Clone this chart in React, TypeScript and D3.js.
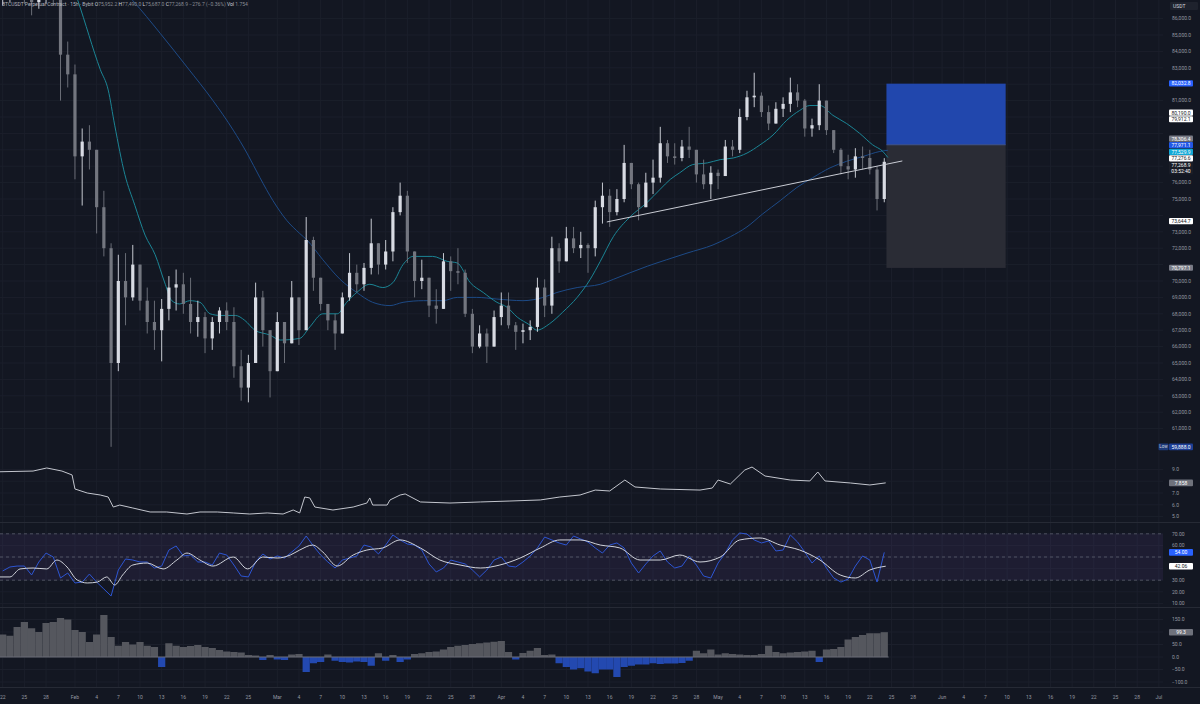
import React, { useEffect } from 'react';
import * as d3 from 'd3';

// ---------- DATA (prices in thousands USDT, day 0 = Jan 22) ----------
const firstOpen = 87.5;
const closes = [
  87.8, 88.0, 88.4, 87.6, 87.0, 87.5, 87.9, 87.3, 83.8, 82.6,
  77.6, 78.5, 78.0, 74.5, 72.0, 65.0, 70.0, 69.0, 71.0, 68.8,
  67.5, 67.0, 68.3, 69.6, 69.8, 68.6, 67.5, 67.8, 66.5, 67.5,
  68.2, 67.5, 64.8, 63.5, 65.0, 69.0, 67.0, 64.5, 67.5, 66.2,
  69.0, 67.0, 72.5, 70.2, 68.6, 67.6, 66.8, 69.0, 70.5, 69.8,
  70.8, 72.3, 71.0, 71.8, 74.2, 75.2, 71.8, 70.0, 70.2, 68.5,
  68.3, 71.2, 70.6, 70.5, 68.0, 66.0, 66.8, 66.0, 67.8, 68.5,
  67.3, 66.9, 67.0, 67.2, 69.6, 68.5, 72.0, 71.2, 72.6, 72.0,
  72.2, 72.0, 74.5, 75.2, 74.2, 75.0, 77.2, 75.9, 74.5, 76.0,
  76.3, 78.4, 77.6, 77.5, 78.2, 78.0, 76.5, 75.9, 76.6, 76.4,
  78.2, 78.0, 80.0, 81.2, 81.3, 80.3, 79.6, 80.5, 80.8, 81.5,
  81.0, 79.3, 79.5, 81.0, 79.2, 78.0, 77.0, 76.8, 77.6, 77.5,
  76.8, 75.0, 77.2689,
];
const highs = [
  88.5, 88.6, 89.0, 88.8, 88.2, 88.0, 88.4, 88.6, 87.8, 84.6,
  83.2, 79.3, 79.5, 78.0, 75.5, 72.3, 71.6, 71.7, 72.2, 70.8,
  69.6, 68.8, 68.9, 70.3, 70.7, 70.5, 70.2, 68.8, 68.1, 67.8,
  68.4, 68.7, 68.4, 65.8, 65.5, 69.9, 69.4, 67.0, 68.1, 67.2,
  70.0, 69.0, 73.9, 72.7, 70.2, 68.4, 68.0, 69.3, 71.7, 71.0,
  71.1, 73.8, 71.9, 72.5, 74.5, 76.0, 75.5, 71.5, 71.3, 70.1,
  69.5, 71.7, 71.5, 72.0, 70.7, 68.3, 67.3, 67.1, 68.2, 69.3,
  69.3, 67.5, 67.4, 67.6, 70.2, 70.1, 72.7, 72.3, 73.3, 73.3,
  73.0, 72.3, 74.9, 76.0, 75.6, 75.6, 78.3, 77.0, 76.0, 76.6,
  77.4, 79.4, 78.6, 78.4, 78.6, 79.4, 77.6, 77.4, 77.0, 76.8,
  78.6, 78.6, 80.5, 81.6, 82.7, 81.5, 80.7, 80.9, 81.2, 82.4,
  82.0, 81.1, 79.9, 82.0, 80.8, 79.2, 78.1, 77.7, 78.1, 78.2,
  78.0, 77.0, 77.49,
];
const lows = [
  86.8, 87.0, 87.2, 86.9, 86.2, 86.6, 86.9, 86.8, 81.0, 81.8,
  76.2, 74.6, 76.8, 72.9, 71.5, 59.888, 64.5, 67.3, 68.8, 68.2,
  66.8, 65.8, 65.1, 67.6, 68.2, 68.0, 66.8, 66.6, 65.6, 65.8,
  66.8, 67.0, 64.1, 62.7, 62.6, 65.2, 66.0, 62.9, 65.5, 65.0,
  66.8, 66.1, 67.0, 69.4, 68.2, 67.0, 65.8, 66.9, 68.8, 69.3,
  69.4, 70.4, 70.4, 70.7, 71.2, 74.0, 71.1, 69.0, 69.5, 67.8,
  67.4, 68.5, 69.4, 69.8, 67.8, 65.6, 65.9, 65.0, 66.2, 67.3,
  67.1, 65.8, 66.2, 66.4, 66.9, 67.8, 68.0, 70.5, 71.3, 71.7,
  71.4, 70.5, 71.5, 73.5, 73.3, 74.0, 74.8, 75.6, 73.7, 74.5,
  75.3, 76.0, 77.2, 77.1, 77.3, 77.5, 76.0, 75.6, 75.0, 75.6,
  76.4, 77.6, 77.8, 79.8, 80.6, 80.0, 79.2, 79.8, 80.0, 80.3,
  80.6, 78.8, 78.8, 79.2, 78.9, 77.8, 76.5, 76.2, 76.3, 76.8,
  76.5, 74.3, 74.8,
];

const fastMa: [number, number][] = [
  [7.9, 90.2], [10.4, 87.1], [13.5, 82.9], [14.6, 81.65], [15.5, 79.5], [16.9, 76.5], [18.3, 74.6],
  [19.7, 72.8], [21.1, 71.6], [22.5, 69.8], [23.4, 68.8], [24.5, 68.6], [25.9, 68.8], [27.3, 68.7],
  [28.7, 68.0], [30.1, 67.9], [32.2, 67.9], [33.5, 67.6], [34.9, 67.0], [37.0, 66.7], [38.4, 66.4],
  [41.1, 66.5], [42.5, 67.2], [44.3, 68.0], [46.3, 68.0], [47.6, 68.7], [49.0, 69.3], [50.8, 69.8],
  [52.6, 69.6], [54.0, 69.9], [55.4, 71.0], [56.8, 71.5], [59.5, 71.5], [61.5, 71.2], [62.9, 71.1],
  [64.7, 69.9], [66.5, 69.3], [68.4, 68.7], [69.8, 68.4], [71.2, 67.8], [73.0, 67.3], [73.9, 67.0],
  [75.7, 67.4], [77.5, 68.1], [79.5, 69.0], [81.3, 70.1], [82.7, 71.2], [84.5, 72.7], [86.8, 73.9],
  [89.2, 74.8], [91.0, 75.6], [92.4, 76.2], [93.7, 76.6], [95.5, 77.1], [97.5, 77.2], [99.3, 77.4],
  [101.1, 77.5], [103.0, 77.8], [104.8, 78.3], [106.6, 78.9], [108.5, 79.8], [110.3, 80.4],
  [111.7, 80.7], [113.1, 80.7], [114.9, 80.1], [116.8, 79.6], [118.6, 79.0], [120.4, 78.3],
  [121.8, 77.9], [122.5, 77.53],
];
const slowMa: [number, number][] = [
  [16.2, 87.95], [18.0, 87.1], [21.8, 85.1], [25.5, 83.05], [29.1, 81.0], [31.9, 79.2], [33.8, 77.8],
  [35.6, 76.3], [37.4, 74.9], [39.3, 73.7], [41.1, 72.9], [42.1, 72.5], [44.3, 71.3], [46.7, 70.1],
  [49.0, 69.3], [51.2, 68.7], [53.6, 68.5], [55.4, 68.7], [58.2, 68.8], [60.9, 68.8], [62.9, 69.0],
  [65.6, 69.0], [68.4, 68.9], [72.0, 68.8], [74.8, 69.0], [76.7, 69.3], [79.5, 69.6], [82.7, 69.8],
  [84.5, 70.1], [86.8, 70.5], [89.2, 70.9], [91.9, 71.3], [94.7, 71.7], [98.3, 72.2], [100.7, 72.7],
  [103.0, 73.3], [105.2, 74.1], [107.6, 74.9], [109.9, 75.7], [112.1, 76.3], [114.5, 76.9],
  [116.8, 77.3], [119.1, 77.6], [121.4, 77.9], [122.5, 77.97],
];
const trendLine: [number, number][] = [[83.6, 73.6], [124.5, 77.32]];

const posStartDay = 122.3;
const posEndDay = 138.8;
const posTarget = 82.0328;
const posEntry = 78.3064;
const posStop = 70.7971;

const volLine: [number, number][] = [
  [-0.4, 8.8], [4.2, 8.86], [6.1, 9.12], [8.2, 8.86], [9.6, 8.53], [10.0, 7.34], [11.7, 7.0],
  [13.5, 6.83], [14.6, 6.66], [15.3, 5.81], [16.2, 5.98], [18.0, 5.73], [20.4, 5.39], [22.7, 5.39],
  [25.5, 5.22], [27.3, 5.39], [29.7, 5.39], [31.9, 5.31], [34.2, 5.22], [36.6, 5.31], [38.8, 5.22],
  [40.2, 5.56], [41.1, 5.31], [41.8, 6.66], [42.5, 6.58], [43.2, 5.81], [45.7, 5.56], [48.5, 5.81],
  [50.4, 6.15], [50.8, 6.58], [51.2, 5.98], [53.2, 5.98], [53.6, 6.41], [55.0, 6.83], [55.7, 6.92],
  [57.8, 6.24], [61.9, 6.15], [66.1, 6.24], [70.2, 6.32], [74.4, 6.41], [77.1, 6.66], [79.9, 6.83],
  [82.0, 7.25], [84.0, 7.17], [86.1, 8.1], [87.5, 7.51], [91.0, 7.34], [96.5, 7.25], [98.2, 7.42],
  [99.0, 8.1], [100.7, 7.76], [102.7, 8.95], [103.7, 9.2], [105.5, 8.44], [109.0, 8.1], [111.7, 8.02],
  [112.8, 8.78], [113.8, 8.02], [117.3, 7.85], [120.0, 7.68], [122.2, 7.858],
];

const rsiValues = [
  38, 41.4, 42.2, 42.2, 34.5, 45.7, 53.4, 50, 31.9, 36.2,
  27.6, 28.4, 35.3, 28.4, 22.4, 16.4, 38.8, 48.3, 47.4, 45.7,
  45.7, 40.5, 42.2, 56, 59.5, 50.9, 51.7, 45.7, 45.7, 43.1,
  53.4, 51.7, 43.1, 33.6, 32.8, 45.7, 52.6, 48.3, 50.9, 49.1,
  54.3, 59.5, 68.1, 59.5, 51.7, 45.7, 40.5, 47.4, 49.1, 50.9,
  60.3, 58.6, 52.6, 60.3, 69, 64.7, 61.2, 60.3, 56, 44,
  37.1, 40.5, 47.4, 45.7, 44, 38.8, 32.8, 38.8, 47.4, 50,
  42.2, 41.4, 45.7, 50.9, 57.8, 67.2, 64.7, 62.1, 60.3, 68.1,
  65.5, 62.9, 57.8, 53.4, 60.3, 62.1, 57.8, 44.8, 36.2, 44,
  50.9, 55.2, 45.7, 40.5, 42.2, 50.9, 43.1, 33.6, 31.9, 44.8,
  53.4, 64.7, 70.7, 69.8, 64.7, 62.1, 63.8, 55.2, 56, 69,
  62.9, 54.3, 44.8, 50.9, 40.5, 31.9, 28.4, 31, 42.2, 50.9,
  47.4, 28.4, 54.0,
];
const rsiMa: [number, number][] = [
  [-0.4, 32.8], [1.0, 32.8], [2.4, 39.7], [4.2, 40.5], [6.1, 39.7], [7.5, 47.4], [8.9, 41.4],
  [10.3, 30.2], [11.7, 27.6], [13.1, 28.4], [14.4, 32.8], [15.5, 25.9], [16.6, 34.5], [18.0, 43.1],
  [20.0, 44.8], [22.2, 39.7], [24.1, 47.4], [25.5, 53.4], [27.3, 47.4], [29.1, 42.2], [31.9, 50],
  [33.9, 39.7], [36.0, 50], [38.0, 49.1], [39.8, 51.7], [41.1, 56], [42.9, 60.3], [44.3, 54.3],
  [46.3, 42.2], [48.5, 51.7], [50.4, 56], [52.6, 57.8], [55.0, 64.7], [57.8, 57.8], [60.5, 47.4],
  [63.3, 43.1], [66.1, 40.5], [68.8, 43.1], [71.6, 49.1], [74.4, 57.8], [77.1, 64.7], [79.9, 64.7],
  [82.7, 60.3], [85.4, 57.8], [88.2, 47.4], [91.0, 47.4], [93.7, 51.7], [96.5, 45.7], [99.3, 50],
  [102.0, 64.7], [104.8, 66.4], [107.6, 60.3], [110.3, 56], [113.1, 47.4], [115.9, 34.5],
  [118.0, 31.9], [120.0, 38.8], [122.2, 42.06],
];

const histValues = [
  90, 85, 120, 140, 115, 100, 136, 140, 156, 150,
  108, 100, 60, 90, 168, 80, 45, 60, 50, 60,
  45, 40, -40, 55, 45, 40, 44, 48, 40, 36,
  28, 22, 20, 18, 8, 6, -12, 8, -10, -12,
  10, 12, -60, -25, -20, 10, -15, -20, -22, -18,
  -20, -35, 15, -15, 8, -20, -10, 12, 15, 20,
  22, 30, 40, 45, 48, 52, 55, 58, 61, 64,
  20, -10, 16, 25, 36, 8, 10, -25, -40, -50,
  -45, -58, -65, -50, -50, -80, -40, -35, -30, -30,
  -25, -28, -26, -26, -24, -15, 25, 15, 30, 10,
  15, 12, 10, 8, 8, 12, 45, 20, 15, 18,
  20, 22, 25, -20, 30, 32, 40, 70, 80, 88,
  95, 95, 99.3,
];

const priceTicks = [61, 62, 63, 64, 65, 66, 67, 68, 69, 70, 71, 72, 73, 74, 75, 76, 77, 78, 79, 80, 81, 82, 83, 84, 85, 86];
const volTicks = [5, 6, 7, 8, 9];
const rsiTicks = [10, 20, 30, 40, 50, 60, 70];
const histTicks = [-100, -50, 0, 50, 100, 150];
const dateTickDays = [0, 3, 6, 10, 13, 16, 19, 22, 25, 28, 31, 34, 38, 41, 44, 47, 50, 53, 56, 59, 62, 65,
  69, 72, 75, 78, 81, 84, 87, 90, 93, 96, 99, 102, 105, 108, 111, 114, 117, 120, 123, 126,
  130, 133, 136, 139, 142, 145, 148, 151, 154, 157, 160];
const dateTickLabels = ['22', '25', '28', 'Feb', '4', '7', '10', '13', '16', '19', '22', '25', 'Mar', '4', '7', '10', '13', '16', '19', '22', '25', '28',
  'Apr', '4', '7', '10', '13', '16', '19', '22', '25', '28', 'May', '4', '7', '10', '13', '16', '19', '22', '25', '28',
  'Jun', '4', '7', '10', '13', '16', '19', '22', '25', '28', 'Jul'];

type Marker = { v: number; text: string; bg: string; fg: string; sub?: string };
const priceMarkers: Marker[] = [
  { v: 82.0328, text: '82,032.8', bg: '#2962ff', fg: '#ffffff' },
  { v: 80.19, text: '80,190.0', bg: '#ffffff', fg: '#131722' },
  { v: 79.9121, text: '79,912.1', bg: '#ffffff', fg: '#131722' },
  { v: 78.3064, text: '78,306.4', bg: '#787b86', fg: '#ffffff' },
  { v: 77.9711, text: '77,971.1', bg: '#2157e6', fg: '#ffffff' },
  { v: 77.5299, text: '77,529.9', bg: '#12a8d6', fg: '#ffffff' },
  { v: 77.2766, text: '77,276.6', bg: '#ffffff', fg: '#131722' },
  { v: 77.2689, text: '77,268.9', bg: '#1a1d27', fg: '#ffffff', sub: '03:52:40' },
  { v: 73.6447, text: '73,644.7', bg: '#ffffff', fg: '#131722' },
  { v: 70.7971, text: '70,797.1', bg: '#787b86', fg: '#ffffff' },
];
const lowMarkerValue = 59.888;
const volMarkerValue = 7.858;
const rsiMarkerValue = 54.0;
const rsiMaMarkerValue = 42.06;
const histMarkerValue = 99.3;

// ---------- LAYOUT ----------
const W = 1200;
const H = 704;
const PLOT_R = 1163;
const BG = '#131722';
const GRID = '#1b1f2b';
const SEP = '#262a35';
const AXIS_TXT = '#9598a1';
const FS = 5;

const xDay = d3.scaleLinear().domain([0, 160]).range([2.7, 2.7 + 160 * 7.226]);
const yPrice = d3.scaleLinear().domain([60, 86]).range([445, 18.6]);
const yVol = d3.scaleLinear().domain([5, 9]).range([516.6, 469.4]);
const yRsi = d3.scaleLinear().domain([30, 70]).range([580.2, 533.8]);
const yHist = d3.scaleLinear().domain([-100, 150]).range([682, 619.5]);

const PANELS = { price: [0, 459], vol: [460, 522], rsi: [523, 607], hist: [608, 687] };

function layoutLabels(items: { y: number; h: number; top?: number }[]) {
  const sorted = [...items].sort((a, b) => a.y - b.y);
  let groups = sorted.map((it) => ({ items: [it], top: it.y - it.h / 2, h: it.h }));
  let merged = true;
  while (merged) {
    merged = false;
    for (let i = 1; i < groups.length; i++) {
      const a = groups[i - 1];
      const b = groups[i];
      if (a.top + a.h > b.top + 0.01) {
        const its = [...a.items, ...b.items];
        const h = a.h + b.h;
        const mean = its.reduce((s, it) => s + it.y, 0) / its.length;
        groups.splice(i - 1, 2, { items: its, h, top: mean - h / 2 });
        merged = true;
        break;
      }
    }
  }
  groups.forEach((g) => {
    let t = g.top;
    g.items.forEach((it) => {
      it.top = t;
      t += it.h;
    });
  });
}

const fmtPrice = (k: number) => d3.format(',.1f')(k * 1000);

export default function App() {
  useEffect(() => {
    document.body.style.margin = '0';
    document.body.style.background = BG;
  }, []);

  const maLine = d3.line<[number, number]>().x((d) => xDay(d[0])).y((d) => yPrice(d[1])).curve(d3.curveMonotoneX);
  const volPath = d3.line<[number, number]>().x((d) => xDay(d[0])).y((d) => yVol(d[1]));
  const rsiPath = d3.line<number>().x((_, i) => xDay(i)).y((d) => yRsi(d));
  const rsiMaPath = d3.line<[number, number]>().x((d) => xDay(d[0])).y((d) => yRsi(d[1])).curve(d3.curveMonotoneX);

  const candles = closes.map((c, i) => {
    const o = i === 0 ? firstOpen : closes[i - 1];
    const h = Math.max(highs[i], o, c);
    const l = Math.min(lows[i], o, c);
    return { i, o, c, h, l, up: c >= o };
  });

  const labelItems = priceMarkers.map((m) => ({ ...m, y: yPrice(m.v), h: m.sub ? 13 : 6.6, top: 0 }));
  layoutLabels(labelItems);

  // occupied label spans on the axis (to hide colliding tick texts)
  const occupied: [number, number][] = [
    ...labelItems.map((m) => [m.top, m.top + m.h] as [number, number]),
    [yPrice(lowMarkerValue) - 3.3, yPrice(lowMarkerValue) + 3.3],
    [yVol(volMarkerValue) - 3.3, yVol(volMarkerValue) + 3.3],
    [yRsi(rsiMarkerValue) - 3.3, yRsi(rsiMarkerValue) + 3.3],
    [yRsi(rsiMaMarkerValue) - 3.3, yRsi(rsiMaMarkerValue) + 3.3],
    [yHist(histMarkerValue) - 3.3, yHist(histMarkerValue) + 3.3],
  ];
  const free = (y: number) => !occupied.some(([a, b]) => y + 2.6 > a && y - 2.6 < b);

  const LBL_X = 1169;
  const LBL_W = 24;

  const simpleMarker = (key: string, y: number, text: string, bg: string, fg: string) => (
    <g key={key}>
      <rect x={LBL_X} y={y - 3.3} width={LBL_W} height={6.6} rx={1} fill={bg} />
      <text x={LBL_X + LBL_W / 2} y={y} dy="0.35em" textAnchor="middle" fontSize={FS} fill={fg}>{text}</text>
    </g>
  );

  return (
    <div style={{ position: 'fixed', left: 0, top: 0, width: W, height: H, background: BG }}>
      <svg width={W} height={H} style={{ display: 'block' }} fontFamily="Roboto, 'DejaVu Sans', sans-serif">
        <defs>
          <clipPath id="cp-price"><rect x={0} y={PANELS.price[0]} width={PLOT_R} height={PANELS.price[1] - PANELS.price[0]} /></clipPath>
          <clipPath id="cp-vol"><rect x={0} y={PANELS.vol[0]} width={PLOT_R} height={PANELS.vol[1] - PANELS.vol[0]} /></clipPath>
          <clipPath id="cp-rsi"><rect x={0} y={PANELS.rsi[0]} width={PLOT_R} height={PANELS.rsi[1] - PANELS.rsi[0]} /></clipPath>
          <clipPath id="cp-hist"><rect x={0} y={PANELS.hist[0]} width={PLOT_R} height={PANELS.hist[1] - PANELS.hist[0]} /></clipPath>
        </defs>
        <rect x={0} y={0} width={W} height={H} fill={BG} />

        {/* vertical grid */}
        {dateTickDays.map((d, i) => (
          <line key={'vg' + i} x1={xDay(d)} x2={xDay(d)} y1={0} y2={687} stroke={GRID} strokeWidth={1} />
        ))}
        {/* horizontal grids */}
        {priceTicks.map((t) => (
          <line key={'pg' + t} x1={0} x2={PLOT_R} y1={yPrice(t)} y2={yPrice(t)} stroke={GRID} />
        ))}
        {volTicks.map((t) => (
          <line key={'vgr' + t} x1={0} x2={PLOT_R} y1={yVol(t)} y2={yVol(t)} stroke={GRID} />
        ))}
        {rsiTicks.map((t) => (
          <line key={'rg' + t} x1={0} x2={PLOT_R} y1={yRsi(t)} y2={yRsi(t)} stroke={GRID} />
        ))}
        {histTicks.map((t) => (
          <line key={'hg' + t} x1={0} x2={PLOT_R} y1={yHist(t)} y2={yHist(t)} stroke={GRID} />
        ))}

        {/* ---- PRICE PANEL ---- */}
        <g clipPath="url(#cp-price)">
          {/* position tool */}
          <rect x={xDay(posStartDay)} y={yPrice(posTarget)} width={xDay(posEndDay) - xDay(posStartDay)}
            height={yPrice(posEntry) - yPrice(posTarget)} fill="#2147ad" />
          <rect x={xDay(posStartDay)} y={yPrice(posEntry)} width={xDay(posEndDay) - xDay(posStartDay)}
            height={yPrice(posStop) - yPrice(posEntry)} fill="#2a2c35" />
          <line x1={xDay(posStartDay)} x2={xDay(posEndDay)} y1={yPrice(posEntry)} y2={yPrice(posEntry)} stroke="#4a5f9a" strokeWidth={0.8} />

          <path d={maLine(slowMa) || ''} fill="none" stroke="#1d4a86" strokeWidth={1} />
          <path d={maLine(fastMa) || ''} fill="none" stroke="#1b8595" strokeWidth={1} />

          {candles.map((k) => {
            const col = k.up ? '#d8dbe3' : '#73767f';
            const cx = xDay(k.i);
            const top = yPrice(Math.max(k.o, k.c));
            const bot = yPrice(Math.min(k.o, k.c));
            return (
              <g key={'c' + k.i}>
                <line x1={cx} x2={cx} y1={yPrice(k.h)} y2={yPrice(k.l)} stroke={col} strokeWidth={0.9} />
                <rect x={cx - 1.6} y={top} width={3.2} height={Math.max(0.8, bot - top)} fill={col} />
              </g>
            );
          })}

          <line x1={xDay(trendLine[0][0])} y1={yPrice(trendLine[0][1])} x2={xDay(trendLine[1][0])} y2={yPrice(trendLine[1][1])}
            stroke="#c9ccd4" strokeWidth={1} />
        </g>

        {/* header */}
        <text x={2} y={6} fontSize={FS} fill="#b2b5be">
          <tspan>BTCUSDT Perpetual Contract · 15h · Bybit </tspan>
          <tspan fill="#d1d4dc"> O</tspan><tspan fill="#8a8d96">75,952.2 </tspan>
          <tspan fill="#d1d4dc">H</tspan><tspan fill="#8a8d96">77,490.0 </tspan>
          <tspan fill="#d1d4dc">L</tspan><tspan fill="#8a8d96">75,687.0 </tspan>
          <tspan fill="#d1d4dc">C</tspan><tspan fill="#8a8d96">77,268.9 −276.7 (−0.36%) </tspan>
          <tspan fill="#d1d4dc">Vol</tspan><tspan fill="#8a8d96"> 1.754</tspan>
        </text>

        {/* ---- VOL PANEL ---- */}
        <g clipPath="url(#cp-vol)">
          <path d={volPath(volLine) || ''} fill="none" stroke="#c3c6ce" strokeWidth={1} />
        </g>

        {/* ---- RSI PANEL ---- */}
        <g clipPath="url(#cp-rsi)">
          <rect x={0} y={yRsi(70)} width={PLOT_R} height={yRsi(30) - yRsi(70)} fill="#7e57c2" fillOpacity={0.1} />
          {[70, 50, 30].map((t) => (
            <line key={'rd' + t} x1={0} x2={PLOT_R} y1={yRsi(t)} y2={yRsi(t)} stroke="#787b86" strokeOpacity={0.55} strokeDasharray="3,3" />
          ))}
          <path d={rsiPath(rsiValues) || ''} fill="none" stroke="#2d55d2" strokeWidth={1} />
          <path d={rsiMaPath(rsiMa) || ''} fill="none" stroke="#d1d4dc" strokeWidth={1} />
        </g>

        {/* ---- HIST PANEL ---- */}
        <g clipPath="url(#cp-hist)">
          {histValues.map((v, i) => {
            const x0 = xDay(i - 0.5);
            const w = xDay(i + 0.5) - x0;
            const y0 = yHist(0);
            const y1 = yHist(v);
            return (
              <rect key={'h' + i} x={x0} y={Math.min(y0, y1)} width={w} height={Math.abs(y1 - y0)}
                fill={v >= 0 ? '#55575e' : '#2349b0'} />
            );
          })}
          <line x1={0} x2={xDay(122.6)} y1={yHist(0)} y2={yHist(0)} stroke="#6a6d76" strokeWidth={1} />
        </g>

        {/* separators */}
        {[522.5, 607.5, 687.5].map((y) => (
          <line key={'sep' + y} x1={0} x2={W} y1={y} y2={y} stroke={SEP} strokeWidth={1} />
        ))}

        {/* ---- RIGHT AXES ---- */}
        <g fontSize={FS} fill={AXIS_TXT}>
          {priceTicks.filter((t) => free(yPrice(t))).map((t) => (
            <text key={'pt' + t} x={1172} y={yPrice(t)} dy="0.35em">{fmtPrice(t)}</text>
          ))}
          {volTicks.filter((t) => free(yVol(t))).map((t) => (
            <text key={'vt' + t} x={1172} y={yVol(t)} dy="0.35em">{d3.format('.1f')(t)}</text>
          ))}
          {rsiTicks.filter((t) => free(yRsi(t))).map((t) => (
            <text key={'rt' + t} x={1172} y={yRsi(t)} dy="0.35em">{d3.format('.2f')(t)}</text>
          ))}
          {histTicks.filter((t) => free(yHist(t))).map((t) => (
            <text key={'ht' + t} x={1172} y={yHist(t)} dy="0.35em">{d3.format('.1f')(t)}</text>
          ))}
        </g>

        {/* USDT box */}
        <rect x={1170} y={2} width={28} height={8} rx={1} fill="#1e222d" />
        <text x={1173} y={6} dy="0.35em" fontSize={FS} fill="#d1d4dc">USDT</text>

        {/* price markers */}
        {labelItems.map((m, i) => (
          <g key={'pm' + i}>
            <rect x={LBL_X} y={m.top} width={LBL_W} height={m.h - 0.4} rx={1} fill={m.bg} />
            <text x={LBL_X + LBL_W / 2} y={m.top + 3.3} dy="0.35em" textAnchor="middle" fontSize={FS} fill={m.fg}>{m.text}</text>
            {m.sub && (
              <text x={LBL_X + LBL_W / 2} y={m.top + 9.6} dy="0.35em" textAnchor="middle" fontSize={FS} fill={m.fg}>{m.sub}</text>
            )}
          </g>
        ))}
        {/* Low marker */}
        <rect x={1158.5} y={yPrice(lowMarkerValue) - 3.3} width={10} height={6.6} rx={1} fill="#1d3a7a" />
        <text x={1163.5} y={yPrice(lowMarkerValue)} dy="0.35em" textAnchor="middle" fontSize={4.5} fill="#d1d4dc">Low</text>
        {simpleMarker('low', yPrice(lowMarkerValue), '59,888.0', '#1d3f96', '#ffffff')}
        {simpleMarker('vol', yVol(volMarkerValue), '7.858', '#6f727c', '#ffffff')}
        {simpleMarker('rsi', yRsi(rsiMarkerValue), '54.00', '#2962ff', '#ffffff')}
        {simpleMarker('rsima', yRsi(rsiMaMarkerValue), '42.06', '#ffffff', '#131722')}
        {simpleMarker('hist', yHist(histMarkerValue), '99.3', '#6f727c', '#ffffff')}

        {/* ---- DATE AXIS ---- */}
        <g fontSize={FS} fill={AXIS_TXT} textAnchor="middle">
          {dateTickDays.map((d, i) => (
            <text key={'dt' + i} x={xDay(d)} y={697} dy="0.35em">{dateTickLabels[i]}</text>
          ))}
        </g>
      </svg>
    </div>
  );
}
